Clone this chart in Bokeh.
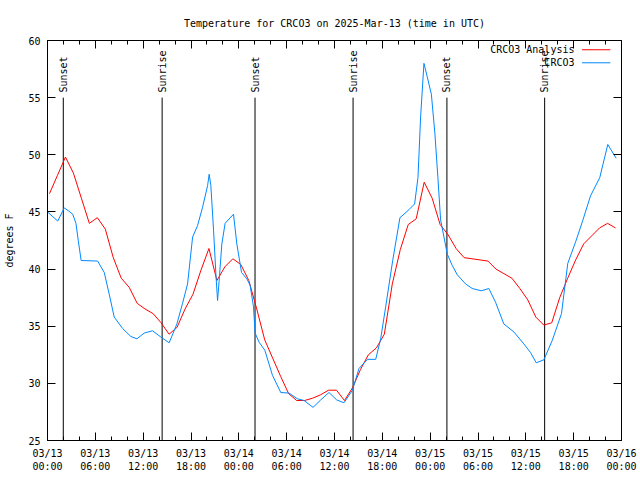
from datetime import datetime, timedelta
from math import pi

from bokeh.plotting import figure
from bokeh.models import (Range1d, FixedTicker, DatetimeTickFormatter, LinearAxis, DatetimeAxis,
                          CustomJSTickFormatter)
from bokeh.embed import file_html
from bokeh.resources import INLINE
from bokeh.core.properties import value

# ---------------- data ----------------
START = datetime(2025, 3, 13, 0, 0)

title_text = "Temperature for CRCO3 on 2025-Mar-13 (time in UTC)"
y_label = "degrees F"
series_names = ["CRCO3 Analysis", "CRCO3"]
series_colors = ["#ff0000", "#0088ff"]

# CRCO3 Analysis: hourly values (valid HH:15 UTC), from 03/13 00:15
analysis_temp = [
    46.6, 48.2, 49.8, 48.4, 46.2, 44.0, 44.5, 43.5, 41.0, 39.2,
    38.4, 37.0, 36.5, 36.1, 35.3, 34.3, 34.9, 36.5, 37.8, 39.9,
    41.8, 39.0, 40.2, 40.9, 40.4, 39.0, 36.5, 33.8, 32.2, 30.6,
    29.1, 28.5, 28.5, 28.7, 29.0, 29.4, 29.4, 28.5, 29.6, 31.2,
    32.5, 33.1, 34.3, 38.7, 41.7, 43.9, 44.4, 47.6, 46.2, 43.9,
    43.0, 41.8, 41.0, 40.9, 40.8, 40.7, 40.0, 39.6, 39.2, 38.3,
    37.3, 35.8, 35.1, 35.3, 37.5, 39.2, 40.8, 42.2, 42.9, 43.6,
    44.0, 43.6,
]
analysis_hours = [h + 0.25 for h in range(len(analysis_temp))]

# CRCO3 observations: hours after 03/13 00:00 UTC and temperature
obs_hours = [
    0.00, 1.28, 2.10, 2.63, 3.16, 3.57, 3.86, 4.22, 6.29, 7.12,
    7.74, 8.37, 9.42, 10.46, 11.22, 12.13, 13.18, 14.22, 15.26, 16.23,
    16.94, 17.57, 18.20, 18.82, 19.45, 20.08, 20.28, 20.49, 20.83, 21.12,
    21.33, 21.53, 21.87, 22.28, 23.33, 23.75, 24.34, 25.00, 25.41, 25.84,
    26.04, 26.54, 27.26, 28.22, 29.26, 30.30, 31.35, 32.18, 33.31, 34.27,
    35.31, 36.28, 37.19, 38.25, 39.07, 40.13, 41.17, 41.79, 42.42, 43.30,
    44.21, 44.71, 45.34, 46.05, 46.47, 46.80, 47.22, 47.64, 48.15, 48.60,
    48.97, 49.31, 50.15, 50.78, 51.40, 52.44, 53.28, 54.41, 55.36, 56.20,
    57.24, 58.50, 59.75, 60.59, 61.30, 62.26, 63.31, 64.47, 65.26, 66.23,
    67.14, 68.11, 69.27, 70.28, 71.33,
]
obs_temp = [
    45.0, 44.2, 45.35, 45.1, 44.8, 44.0, 42.5, 40.75, 40.7, 39.7,
    37.8, 35.8, 34.8, 34.1, 33.9, 34.4, 34.6, 34.05, 33.55, 35.2,
    37.0, 38.7, 42.8, 43.8, 45.4, 47.3, 48.3, 47.3, 43.4, 39.6,
    37.25, 39.0, 42.2, 44.0, 44.8, 42.2, 39.7, 39.15, 38.6, 36.7,
    34.4, 33.6, 32.9, 30.7, 29.2, 29.15, 28.65, 28.5, 27.9, 28.55,
    29.2, 28.55, 28.3, 29.4, 31.3, 32.1, 32.1, 33.9, 36.7, 40.75,
    44.5, 44.8, 45.2, 45.7, 48.0, 53.3, 58.0, 56.8, 55.3, 51.8,
    48.0, 44.3, 41.3, 40.3, 39.5, 38.7, 38.3, 38.1, 38.3, 37.1,
    35.2, 34.5, 33.45, 32.7, 31.8, 32.06, 33.75, 36.1, 40.5, 42.35,
    44.25, 46.4, 48.0, 50.9, 49.7,
]

sun_hours = [1.98, 14.38, 26.03, 38.33, 50.10, 62.36]
sun_labels = ["Sunset", "Sunrise", "Sunset", "Sunrise", "Sunset", "Sunrise"]
sun_line_top = 55.0

y_ticks = [25, 30, 35, 40, 45, 50, 55, 60]
x_major_step_h = 6
x_minor_step_h = 2

# ---------------- helpers ----------------
def t(h):
    return START + timedelta(hours=h)

def ms(dt):
    return (dt - datetime(1970, 1, 1)).total_seconds() * 1000.0

FONT = "DejaVu Sans Mono"
FS = "10px"

x_major = [ms(t(h)) for h in range(0, 73, x_major_step_h)]
x_minor = [ms(t(h)) for h in range(0, 73, x_minor_step_h)]
x_ticker = FixedTicker(ticks=x_major, minor_ticks=x_minor)
y_ticker = FixedTicker(ticks=y_ticks, minor_ticks=[])

p = figure(
    width=640, height=480,
    frame_width=574, frame_height=400,
    x_axis_type="datetime",
    x_range=Range1d(t(0), t(72)),
    y_range=Range1d(y_ticks[0], y_ticks[-1]),
    output_backend="svg", toolbar_location=None,
    min_border_left=47, min_border_right=19, min_border_top=40, min_border_bottom=40,
)
p.background_fill_color = "white"
p.border_fill_color = "white"
p.outline_line_color = "black"
p.outline_line_width = 1
p.xgrid.grid_line_color = None
p.ygrid.grid_line_color = None

p.title.text = title_text
p.title.align = "center"
p.title.text_font = FONT
p.title.text_font_size = FS
p.title.text_font_style = "normal"
p.title.text_color = "black"
p.title.standoff = 24

fmt = "%m/%d\n%H:%M"
formatter = DatetimeTickFormatter(
    microseconds=fmt, milliseconds=fmt, seconds=fmt, minsec=fmt, minutes=fmt,
    hourmin=fmt, hours=fmt, days=fmt, months=fmt, years=fmt,
)
blank = CustomJSTickFormatter(code="return ''")

def style_axis(ax):
    ax.major_tick_in = 8
    ax.major_tick_out = 0
    ax.minor_tick_in = 4
    ax.minor_tick_out = 0
    ax.axis_line_color = "black"
    ax.major_tick_line_color = "black"
    ax.minor_tick_line_color = "black"
    ax.major_label_text_font = FONT
    ax.major_label_text_font_size = FS
    ax.major_label_text_color = "black"

xa = p.xaxis[0]
xa.ticker = x_ticker
xa.formatter = formatter
style_axis(xa)
xa.major_label_standoff = 7

ya = p.yaxis[0]
ya.ticker = y_ticker
style_axis(ya)
ya.major_label_standoff = 7
ya.axis_label = y_label
ya.axis_label_text_font = FONT
ya.axis_label_text_font_size = FS
ya.axis_label_text_font_style = "normal"
ya.axis_label_text_color = "black"
ya.axis_label_standoff = 10

top = DatetimeAxis(ticker=x_ticker, formatter=blank)
style_axis(top)
top.major_label_standoff = 0
p.add_layout(top, "above")

right = LinearAxis(ticker=y_ticker, formatter=blank)
style_axis(right)
right.major_label_standoff = 0
p.add_layout(right, "right")

# sunrise / sunset markers
sun_x = [t(h) for h in sun_hours]
p.segment(x0=sun_x, y0=[sun_line_top] * len(sun_x), x1=sun_x, y1=[y_ticks[0]] * len(sun_x),
          line_color="black", line_width=1)
p.text(x=sun_x, y=[sun_line_top + 0.45] * len(sun_x), text=sun_labels, angle=pi / 2,
       text_align="left", text_baseline="middle", text_font=value(FONT),
       text_font_size=FS, text_color="black")

# series
p.line([t(h) for h in analysis_hours], analysis_temp, line_color=series_colors[0], line_width=1)
p.line([t(h) for h in obs_hours], obs_temp, line_color=series_colors[1], line_width=1)

# gnuplot-style key (text right-aligned, sample to its right), top-right inside frame
key_text_x = t(66.1)
key_x0, key_x1 = t(67.05), t(70.6)
key_rows = [59.19, 58.05]
p.text(x=[key_text_x] * 2, y=key_rows, text=series_names, text_align="right",
       text_baseline="middle", text_font=value(FONT), text_font_size=FS, text_color="black")
p.segment(x0=[key_x0] * 2, y0=key_rows, x1=[key_x1] * 2, y1=key_rows,
          line_color=series_colors, line_width=1)

open("out.html", "w").write(file_html(p, INLINE))
